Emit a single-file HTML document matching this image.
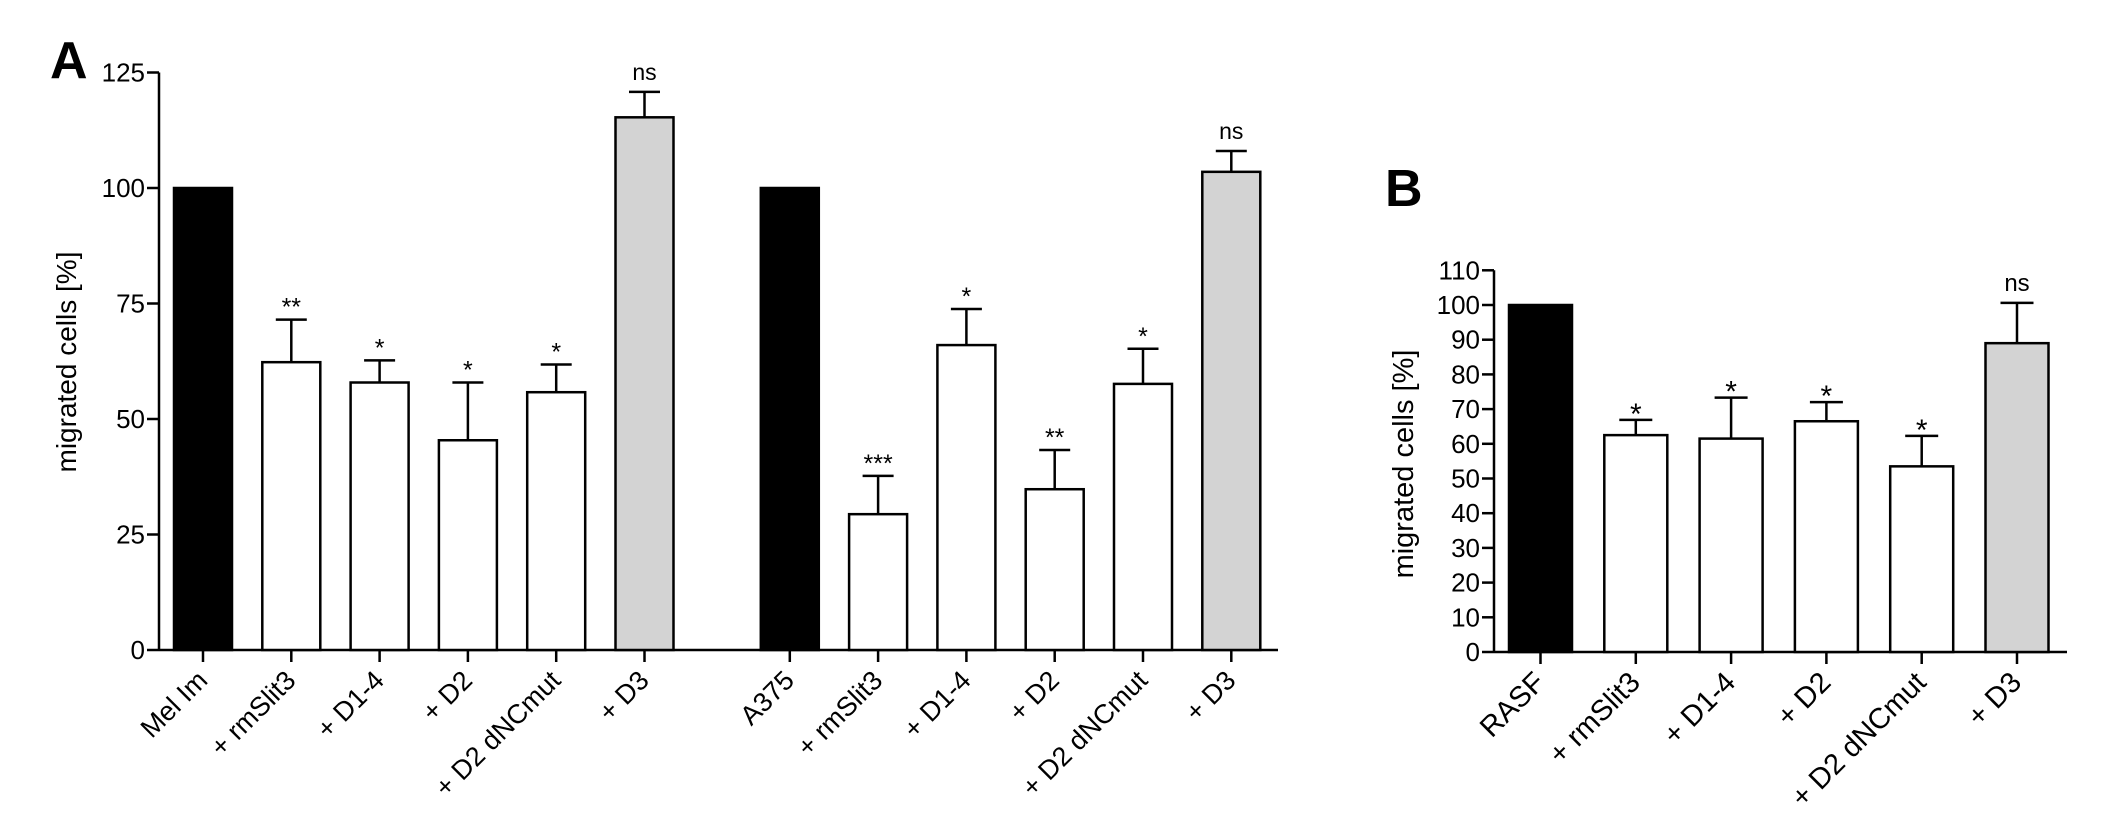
<!DOCTYPE html>
<html><head><meta charset="utf-8"><style>body{margin:0;background:#fff}svg{display:block}text{font-family:"Liberation Sans",Arial,sans-serif;fill:#000}</style></head>
<body>
<svg id="chart" width="2126" height="830" viewBox="0 0 2126 830" xmlns="http://www.w3.org/2000/svg"></svg>
<script>
const catsA = ["Mel Im","+ rmSlit3","+ D1-4","+ D2","+ D2 dNCmut","+ D3","A375","+ rmSlit3","+ D1-4","+ D2","+ D2 dNCmut","+ D3"];
const valsA = [100,62.3,57.9,45.4,55.8,115.3,100,29.4,66.0,34.8,57.6,103.5];
const errA = [null,71.5,62.7,57.9,61.8,120.8,null,37.7,73.8,43.3,65.2,108];
const sigA = ["","**","*","*","*","ns","","***","*","**","*","ns"];
const fillA = ["#000","#fff","#fff","#fff","#fff","#d3d3d3","#000","#fff","#fff","#fff","#fff","#d3d3d3"];
const ticksA = [0,25,50,75,100,125];
const catsB = ["RASF","+ rmSlit3","+ D1-4","+ D2","+ D2 dNCmut","+ D3"];
const valsB = [100,62.5,61.5,66.5,53.5,89];
const errB = [null,66.9,73.3,72,62.3,100.6];
const sigB = ["","*","*","*","*","ns"];
const fillB = ["#000","#fff","#fff","#fff","#fff","#d3d3d3"];
const ticksB = [0,10,20,30,40,50,60,70,80,90,100,110];

const svg = document.getElementById('chart');
const NS = "http://www.w3.org/2000/svg";
function mk(tag, attrs, parent){const e=document.createElementNS(NS,tag);for(const k in attrs)e.setAttribute(k,attrs[k]);(parent||svg).appendChild(e);return e;}

function panel(o){
  const y = v => o.base - (v - 0) * o.ppu;
  const x = i => o.x0 + i*o.pitch + (i>=o.gapAt ? o.gap : 0);
  const g = mk('g',{});
  
  
  const ya = mk('line',{x1:o.axisX,y1:y(o.ticks[o.ticks.length-1]),x2:o.axisX,y2:o.base,stroke:'#000','stroke-width':2.5},g);
  
  
  const xa = mk('line',{x1:o.axisX,y1:o.base,x2:o.axisEnd,y2:o.base,stroke:'#000','stroke-width':2.5},g);
  
  
  o.ticks.forEach(t=>{
    mk('line',{x1:o.axisX-12,y1:y(t),x2:o.axisX,y2:y(t),stroke:'#000','stroke-width':2.5},g);
    const tl = mk('text',{x:o.axisX-14,y:y(t)+9,'text-anchor':'end','font-size':o.tickFont},g);
    tl.textContent = t;
    
    
  });
  o.cats.forEach((c,i)=>{
    const bx = x(i), cx = bx + o.bw/2;
    const r = mk('rect',{x:bx,y:y(o.vals[i]),width:o.bw,height:o.base-y(o.vals[i]),fill:o.fills[i],stroke:'#000','stroke-width':2.5},g);
    
    
    if(o.errs[i]!=null){
      mk('line',{x1:cx,y1:y(o.vals[i]),x2:cx,y2:y(o.errs[i]),stroke:'#000','stroke-width':2.5},g);
      const cap = mk('line',{x1:cx-o.cap/2,y1:y(o.errs[i]),x2:cx+o.cap/2,y2:y(o.errs[i]),stroke:'#000','stroke-width':2.5},g);
      
      
    }
    if(o.sig[i]){
      const top = o.errs[i]!=null ? y(o.errs[i]) : y(o.vals[i]);
      const isNs = o.sig[i]==='ns';
      const s = mk('text',{x:cx,y: isNs ? top-12 : top+ (o.starOff), 'text-anchor':'middle','font-size': isNs ? o.nsFont : o.starFont},g);
      s.textContent = o.sig[i];
      
      
    }
    mk('line',{x1:cx,y1:o.base,x2:cx,y2:o.base+12,stroke:'#000','stroke-width':2.5},g);
    const lx = cx+6, ly = o.base+32;
    const lab = mk('text',{x:lx,y:ly,'text-anchor':'end','font-size':o.labFont,transform:`rotate(-45 ${lx} ${ly})`},g);
    lab.textContent = c;
    
    
  });
  const t = mk('text',{x:0,y:0,'text-anchor':'middle','font-size':o.titleFont,transform:`translate(${o.titleX} ${o.titleY}) rotate(-90)`},g);
  t.textContent = 'migrated cells [%]';
  
  
  const L = mk('text',{x:o.letterX,y:o.letterY,'font-size':52,'font-weight':'bold'},g);
  L.textContent = o.letter;
  
  
}

panel({name:'panel-a',cats:catsA,vals:valsA,errs:errA,sig:sigA,fills:fillA,ticks:ticksA,
  base:650,ppu:4.62,axisX:159,axisEnd:1278,x0:174,pitch:88.3,gapAt:6,gap:57,bw:58,cap:31,
  tickFont:26,labFont:27,starFont:25,nsFont:23,starOff:-4,titleFont:28,titleX:76,titleY:362,
  letter:'A',letterX:50,letterY:78});
panel({name:'panel-b',cats:catsB,vals:valsB,errs:errB,sig:sigB,fills:fillB,ticks:ticksB,
  base:652,ppu:3.47,axisX:1494,axisEnd:2067,x0:1509,pitch:95.3,gapAt:99,gap:0,bw:63,cap:33,
  tickFont:26,labFont:29,starFont:30,nsFont:24,starOff:4,titleFont:29,titleX:1413,titleY:464,
  letter:'B',letterX:1385,letterY:206});
</script>
</body></html>
